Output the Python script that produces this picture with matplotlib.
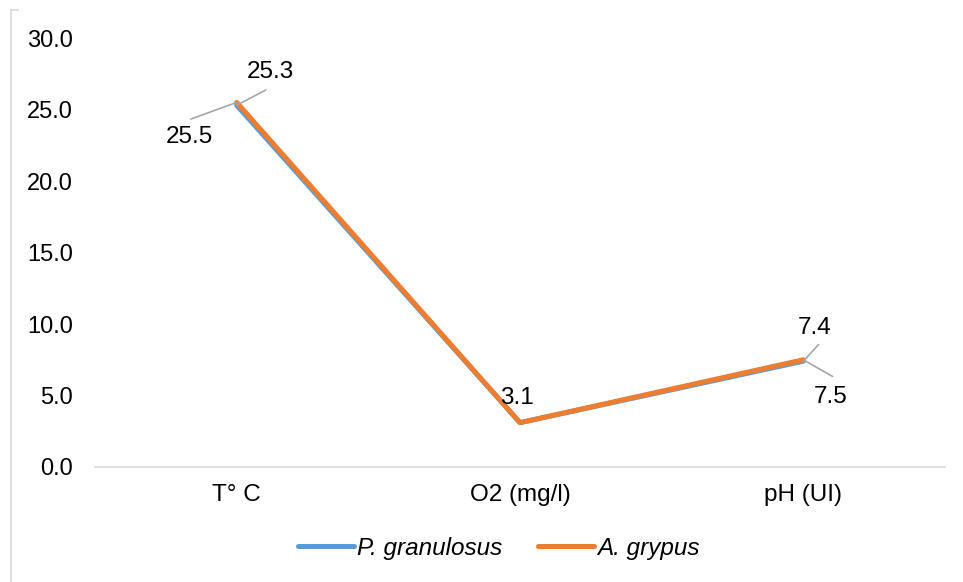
import matplotlib.pyplot as plt
from matplotlib.lines import Line2D

plt.rcParams['font.family'] = ['Liberation Sans', 'DejaVu Sans']

categories = ["T° C", "O2 (mg/l)", "pH (UI)"]
p_granulosus = [25.3, 3.1, 7.4]
a_grypus = [25.5, 3.1, 7.5]

# label text offsets (points) and leader line ends for each value
label_specs = [
    # (series, index, text offset, leader end offset)
    ("p", 0, (24, 24), (21, 11)),
    ("a", 0, (-34, -25), (-33, -12)),
    ("a", 1, (-2, 18), None),
    ("p", 2, (8, 24), (11, 12)),
    ("a", 2, (20, -27), (21, -12)),
]

BLUE = "#5B9BD5"
ORANGE = "#ED7D31"
GREY = "#A6A6A6"
FS = 17.5

fig = plt.figure(figsize=(9.63, 5.82), dpi=100)
ax = fig.add_axes([95 / 963, 0.1976, 850 / 963, 0.737])

x = list(range(len(categories)))
ax.plot(x, p_granulosus, color=BLUE, lw=3.6, solid_capstyle="round", solid_joinstyle="round")
ax.plot(x, a_grypus, color=ORANGE, lw=3.6, solid_capstyle="round", solid_joinstyle="round")

series = {"p": p_granulosus, "a": a_grypus}
for key, i, txt_off, lead_off in label_specs:
    y = series[key][i]
    if lead_off is not None:
        ax.annotate("", xy=(i, y), xytext=lead_off, textcoords="offset points",
                    arrowprops=dict(arrowstyle="-", color=GREY, lw=1.2,
                                    shrinkA=0, shrinkB=0))
    ax.annotate(f"{y:.1f}", xy=(i, y), xytext=txt_off, textcoords="offset points",
                ha="center", va="center", fontsize=FS, color="#000000")

ax.set_xlim(-0.5, 2.5)
ax.set_ylim(0, 30)
ax.set_yticks([0, 5, 10, 15, 20, 25, 30])
ax.set_yticklabels([f"{v:.1f}" for v in [0, 5, 10, 15, 20, 25, 30]])
ax.set_xticks(x)
ax.set_xticklabels(categories)
ax.tick_params(axis="both", length=0, labelsize=FS, colors="#000000")
ax.tick_params(axis="y", labelsize=17, pad=16)
ax.tick_params(axis="x", pad=12)
for side in ["top", "right", "left"]:
    ax.spines[side].set_visible(False)
ax.spines["bottom"].set_color("#D9D9D9")
ax.spines["bottom"].set_linewidth(1.2)

handles = [
    Line2D([], [], color=BLUE, lw=3.6, solid_capstyle="round"),
    Line2D([], [], color=ORANGE, lw=3.6, solid_capstyle="round"),
]
leg = fig.legend(handles, ["P. granulosus", "A. grypus"], loc="center",
                 bbox_to_anchor=(0.518, 1 - 548 / 582), ncol=2, frameon=False,
                 handlelength=2.3, handletextpad=0.1, columnspacing=1.5,
                 prop={"size": FS, "style": "italic"})

# outer chart frame (left and top edges)
fig.add_artist(Line2D([10.5 / 963, 10.5 / 963], [0, 1 - 10 / 582],
                      transform=fig.transFigure, color="#D9D9D9", lw=1.2))
fig.add_artist(Line2D([10.5 / 963, 18 / 963], [1 - 10 / 582, 1 - 10 / 582],
                      transform=fig.transFigure, color="#D9D9D9", lw=1.2))

fig.savefig("out.png", dpi=100)
